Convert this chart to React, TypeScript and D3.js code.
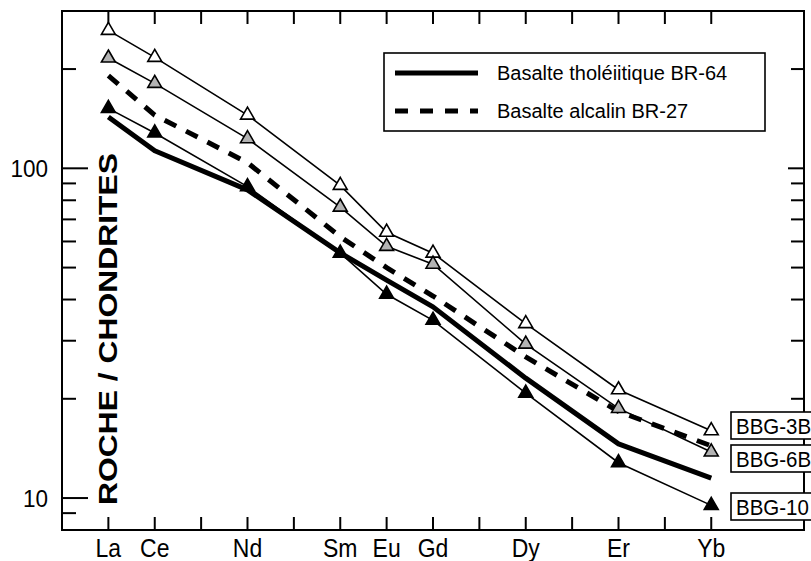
import React from "react";
import * as d3 from "d3";

// REE sequence (positions on the x axis)
const ree = ["La", "Ce", "Pr", "Nd", "Pm", "Sm", "Eu", "Gd", "Tb", "Dy", "Ho", "Er", "Tm", "Yb"];
// analysed elements
const elements = ["La", "Ce", "Nd", "Sm", "Eu", "Gd", "Dy", "Er", "Yb"];

const bbg3b = [262, 217, 145, 88.8, 64, 55.3, 33.8, 21.3, 16.0];
const bbg6b = [216, 181, 123, 76.3, 58, 51.2, 29.3, 18.7, 13.8];
const bbg10 = [152, 128, 88, 55.3, 41.5, 34.6, 20.8, 12.8, 9.5];
const br64 = [143, 113, 86, 55.4, 45.8, 38.0, 23.1, 14.6, 11.5];
const br27 = [191, 145, 104, 62, 50, 41, 26.8, 18.3, 14.4];

const yMajorTicks = [10, 100];
const yMinorTicks = [9, 20, 30, 40, 50, 60, 70, 80, 90, 200];

const legendLabels = ["Basalte tholéiitique BR-64", "Basalte alcalin BR-27"];
const sampleLabels = ["BBG-3B", "BBG-6B", "BBG-10"];
const yTitle = "ROCHE / CHONDRITES";

const FONT = "'Liberation Sans', Arial, sans-serif";

export default function App() {
  const W = 811, H = 561;
  const left = 62, right = 804, top = 11, bottom = 530;

  const x = d3.scaleLinear().domain([-1, ree.length + 1]).range([left, right]);
  const y = d3.scaleLog().domain([8, 300]).range([bottom, top]);
  const xe = (el: string) => x(ree.indexOf(el));

  const line = d3
    .line<[string, number]>()
    .x((d) => xe(d[0]))
    .y((d) => y(d[1]));
  const pairs = (vals: number[]) => elements.map((e, i) => [e, vals[i]] as [string, number]);

  const tri = d3.symbol().type(d3.symbolTriangle).size(84)()!;

  const samples = [
    { vals: bbg3b, fill: "#ffffff", label: sampleLabels[0] },
    { vals: bbg6b, fill: "#b3b3b3", label: sampleLabels[1] },
    { vals: bbg10, fill: "#000000", label: sampleLabels[2] },
  ];

  const boxes = [
    { label: sampleLabels[0], y0: 412, y1: 439 },
    { label: sampleLabels[1], y0: 445, y1: 472 },
    { label: sampleLabels[2], y0: 493, y1: 520 },
  ];

  return (
    <div style={{ position: "fixed", left: 0, top: 0 }}>
      <svg width={W} height={H} style={{ display: "block", background: "#fff" }} fontFamily={FONT}>
        <rect x={0} y={0} width={W} height={H} fill="#fff" />
        {/* frame */}
        <rect x={left} y={top} width={right - left} height={bottom - top} fill="none" stroke="#000" strokeWidth={2} />

        {/* x ticks */}
        {ree.map((e) => (
          <g key={"xt" + e}>
            <line x1={xe(e)} x2={xe(e)} y1={bottom} y2={bottom - 13} stroke="#000" strokeWidth={2} />
            <line x1={xe(e)} x2={xe(e)} y1={top} y2={top + 13} stroke="#000" strokeWidth={2} />
          </g>
        ))}
        {elements.map((e) => (
          <text
            key={"xl" + e}
            transform={`translate(${xe(e)},557) scale(1,1.1)`}
            fontSize={23}
            textAnchor="middle"
            fill="#000"
          >
            {e}
          </text>
        ))}

        {/* y ticks */}
        {yMajorTicks.map((v) => (
          <g key={"ym" + v}>
            <line x1={left} x2={left + 26} y1={y(v)} y2={y(v)} stroke="#000" strokeWidth={2} />
            <line x1={right} x2={right - 16} y1={y(v)} y2={y(v)} stroke="#000" strokeWidth={2} />
            <text
              transform={`translate(48,${y(v) + 8.5}) scale(1,1.1)`}
              fontSize={22.5}
              textAnchor="end"
              fill="#000"
            >
              {v}
            </text>
          </g>
        ))}
        {yMinorTicks.map((v) => (
          <g key={"yn" + v}>
            <line x1={left} x2={left + 14} y1={y(v)} y2={y(v)} stroke="#000" strokeWidth={2} />
            <line x1={right} x2={right - 13} y1={y(v)} y2={y(v)} stroke="#000" strokeWidth={2} />
          </g>
        ))}

        {/* y title */}
        <text
          transform={`translate(117, 329) rotate(-90)`}
          textAnchor="middle"
          fontSize={26.5}
          fontWeight="bold"
          textLength={352}
          lengthAdjust="spacingAndGlyphs"
          fill="#000"
        >
          {yTitle}
        </text>

        {/* sample lines */}
        {samples.map((s) => (
          <path key={"l" + s.label} d={line(pairs(s.vals))!} fill="none" stroke="#000" strokeWidth={1.6} />
        ))}
        {/* basalts */}
        <path d={line(pairs(br64))!} fill="none" stroke="#000" strokeWidth={5} strokeLinejoin="round" />
        <path d={line(pairs(br27))!} fill="none" stroke="#000" strokeWidth={5} strokeDasharray="13,11" />

        {/* markers */}
        {samples.map((s) =>
          pairs(s.vals).map(([e, v]) => (
            <path
              key={"m" + s.label + e}
              d={tri}
              transform={`translate(${xe(e)},${y(v)})`}
              fill={s.fill}
              stroke="#000"
              strokeWidth={1.6}
            />
          ))
        )}

        {/* legend */}
        <rect x={384} y={53} width={381} height={78} fill="#fff" stroke="#000" strokeWidth={1.6} />
        <line x1={395} x2={478} y1={73} y2={73} stroke="#000" strokeWidth={5} />
        <line x1={395} x2={478} y1={111} y2={111} stroke="#000" strokeWidth={5} strokeDasharray="13,12" />
        <text x={497} y={80} fontSize={20} fill="#000">
          {legendLabels[0]}
        </text>
        <text x={497} y={118} fontSize={20} fill="#000">
          {legendLabels[1]}
        </text>

        {/* sample label boxes */}
        {boxes.map((b) => (
          <g key={"b" + b.label}>
            <rect x={731} y={b.y0} width={90} height={b.y1 - b.y0} fill="#fff" stroke="#000" strokeWidth={1.6} />
            <text
              transform={`translate(736,${(b.y0 + b.y1) / 2 + 8}) scale(1,1.12)`}
              fontSize={20.5}
              fill="#000"
            >
              {b.label}
            </text>
          </g>
        ))}
      </svg>
    </div>
  );
}
